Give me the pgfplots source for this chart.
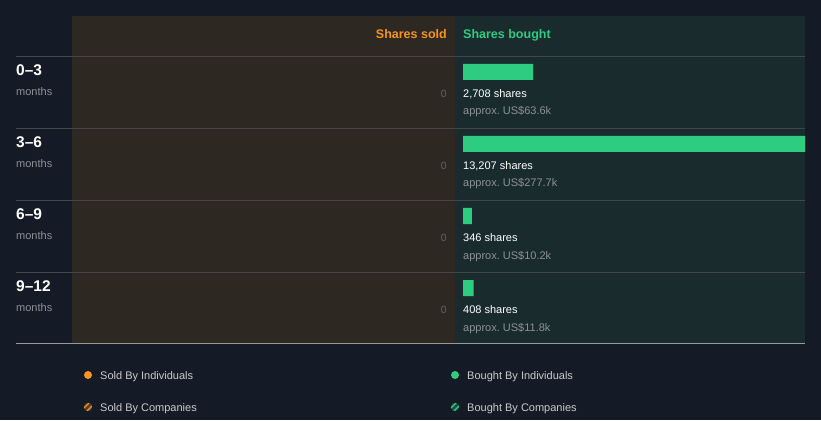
\documentclass[border=0pt]{standalone}
\usepackage{pgfplots}
\pgfplotsset{compat=1.18}
\usepackage{fontspec}
\setmainfont{Liberation Sans}
\frenchspacing
\definecolor{bgc}{RGB}{21,27,38}
\definecolor{soldc}{RGB}{45,40,34}
\definecolor{boughtc}{RGB}{26,43,46}
\definecolor{barc}{RGB}{46,204,128}
\definecolor{orangec}{RGB}{247,148,30}
\definecolor{greenc}{RGB}{46,204,128}
\definecolor{linec}{RGB}{68,70,72}
\definecolor{botline}{RGB}{150,154,158}
\definecolor{mutedc}{RGB}{140,144,150}
\definecolor{zeroc}{RGB}{100,100,100}
\definecolor{legtext}{RGB}{200,202,206}
\pgfplotstableread{
row shares
0 2708
1 13207
2 346
3 408
}\bought
\pgfplotstableread{
row shares
0 0
1 0
2 0
3 0
}\sold
\tikzset{wt/.style={anchor=base west,inner sep=0,text=white,font=\fontsize{11}{13}\selectfont},
  gt/.style={anchor=base west,inner sep=0,text=mutedc,font=\fontsize{11}{13}\selectfont},
  zt/.style={anchor=base east,inner sep=0,text=zeroc,font=\fontsize{10.5}{12}\selectfont}}
\begin{document}
\begin{tikzpicture}[x=1pt,y=1pt]
\fill[bgc] (0,0) rectangle (821,420);
\fill[soldc] (72,77) rectangle (455,404);
\fill[boughtc] (455,77) rectangle (805,404);
\foreach \yy in {363.5,291.5,219.5,147.5}{\draw[linec,line width=0.9pt] (16,\yy)--(805,\yy);}
\draw[botline,line width=1pt] (16,76.5)--(805,76.5);
% headers
\node[anchor=base east,inner sep=0,text=orangec,font=\fontsize{12.5}{14}\selectfont\bfseries] at (447,381) {Shares sold};
\node[anchor=base west,inner sep=0,text=greenc,font=\fontsize{12.5}{14}\selectfont\bfseries] at (463,381) {Shares bought};
% row labels
\foreach \lab/\yb in {0–3/344,3–6/272,6–9/200,9–12/128}{
  \node[anchor=base west,inner sep=0,text=white,font=\fontsize{15.5}{17}\selectfont\bfseries] at (16,\yb) {\lab};
  \node[anchor=base west,inner sep=0,text=mutedc,font=\fontsize{11}{13}\selectfont] at (16,\yb-20) {months};
}
% bought axis
\begin{axis}[at={(463pt,77pt)},anchor=south west,scale only axis,width=342pt,height=287pt,
  xmin=0,xmax=13207,ymin=-0.22222,ymax=3.76389,y dir=reverse,hide axis,clip=false,
  xbar,bar width=16pt,bar shift=0pt]
\addplot[fill=barc,draw=none] table[x=shares,y=row]{\bought};
\node[wt] at ([yshift=-25.5pt]axis cs:0,0) {2,708 shares};
\node[gt] at ([yshift=-43pt]axis cs:0,0) {approx.\ US\$63.6k};
\node[wt] at ([yshift=-25.5pt]axis cs:0,1) {13,207 shares};
\node[gt] at ([yshift=-43pt]axis cs:0,1) {approx.\ US\$277.7k};
\node[wt] at ([yshift=-25.5pt]axis cs:0,2) {346 shares};
\node[gt] at ([yshift=-43pt]axis cs:0,2) {approx.\ US\$10.2k};
\node[wt] at ([yshift=-25.5pt]axis cs:0,3) {408 shares};
\node[gt] at ([yshift=-43pt]axis cs:0,3) {approx.\ US\$11.8k};
\end{axis}
% sold axis
\begin{axis}[at={(72pt,77pt)},anchor=south west,scale only axis,width=375pt,height=287pt,
  xmin=0,xmax=13207,ymin=-0.22222,ymax=3.76389,y dir=reverse,x dir=reverse,hide axis,clip=false,
  xbar,bar width=16pt,bar shift=0pt]
\addplot[fill=none,draw=none] table[x=shares,y=row]{\sold};
\node[zt] at ([yshift=-25.5pt]axis cs:0,0) {0};
\node[zt] at ([yshift=-25.5pt]axis cs:0,1) {0};
\node[zt] at ([yshift=-25.5pt]axis cs:0,2) {0};
\node[zt] at ([yshift=-25.5pt]axis cs:0,3) {0};
\end{axis}
% legend
\fill[orangec] (88,45) circle (4);
\fill[greenc] (455,45) circle (4);
\node[anchor=base west,inner sep=0,text=legtext,font=\fontsize{11}{13}\selectfont] at (100,41) {Sold By Individuals};
\node[anchor=base west,inner sep=0,text=legtext,font=\fontsize{11}{13}\selectfont] at (467,41) {Bought By Individuals};
\begin{scope}
\clip (88,13) circle (4.2);
\fill[orangec!30!bgc] (83,8) rectangle (93,18);
\draw[orangec,line width=1.3pt] (81.5,9.5)--(89.5,17.5) (86.5,8.5)--(94.5,16.5);
\end{scope}
\begin{scope}
\clip (455,13) circle (4.2);
\fill[greenc!30!bgc] (450,8) rectangle (460,18);
\draw[greenc,line width=1.3pt] (448.5,9.5)--(456.5,17.5) (453.5,8.5)--(461.5,16.5);
\end{scope}
\node[anchor=base west,inner sep=0,text=legtext,font=\fontsize{11}{13}\selectfont] at (100,9) {Sold By Companies};
\node[anchor=base west,inner sep=0,text=legtext,font=\fontsize{11}{13}\selectfont] at (467,9) {Bought By Companies};
\pgfresetboundingbox
\useasboundingbox (0,0) rectangle (821,420);
\end{tikzpicture}
\end{document}
